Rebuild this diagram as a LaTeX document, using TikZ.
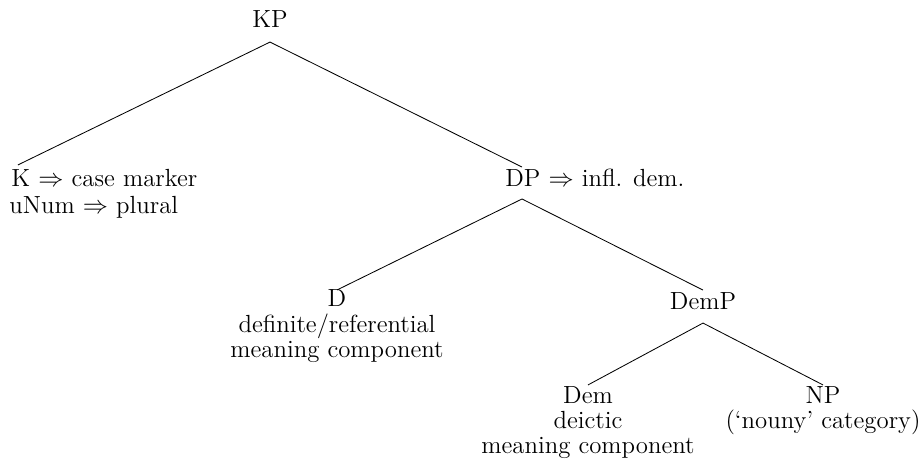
\documentclass[tikz,border=0pt]{standalone}
\begin{document}
\begin{tikzpicture}[x=0.476pt,y=-0.476pt,
  every node/.style={font=\fontsize{11.8pt}{14pt}\selectfont},
  lbl/.style={inner sep=0pt, anchor=base},
  lblw/.style={inner sep=0pt, anchor=base west},
  edge/.style={line width=0.4pt}]
\useasboundingbox (0,0) rectangle (922,465);
% heads
\node[lbl]  (KP)   at (270,28)  {KP};
\node[lblw] (K)    at (11,187)  {K $\Rightarrow$ case marker};
\node[lblw] (uNum) at (9,214)   {uNum $\Rightarrow$ plural};
\node[lblw] (DP)   at (505,187) {DP $\Rightarrow$ infl. dem.};
\node[lbl]  (D)    at (337,307) {D};
\node[lbl]  (Dd1)  at (337,332) {definite/referential};
\node[lbl]  (Dd2)  at (337,357) {meaning component};
\node[lbl]  (DemP) at (703,309) {DemP};
\node[lbl]  (Dem)  at (588,403) {Dem};
\node[lbl]  (Demd1) at (588,428) {deictic};
\node[lbl]  (Demd2) at (588,453) {meaning component};
\node[lbl]  (NP)   at (823,403) {NP};
\node[lbl]  (NPd)  at (823,428) {(`nouny' category)};
% edges
\draw[edge] ([yshift=-6.7pt]KP.base) -- ([xshift=3.3pt,yshift=10.5pt]K.base west);
\draw[edge] ([yshift=-6.7pt]KP.base) -- ([xshift=8.1pt,yshift=9.5pt]DP.base west);
\draw[edge] ([xshift=8.1pt,yshift=-5.7pt]DP.base west) -- ([yshift=8.1pt]D.base);
\draw[edge] ([xshift=8.1pt,yshift=-5.7pt]DP.base west) -- ([yshift=9pt]DemP.base);
\draw[edge] ([yshift=-6.7pt]DemP.base) -- ([yshift=8.6pt]Dem.base);
\draw[edge] ([yshift=-6.7pt]DemP.base) -- ([yshift=8.6pt]NP.base);
\end{tikzpicture}
\end{document}
